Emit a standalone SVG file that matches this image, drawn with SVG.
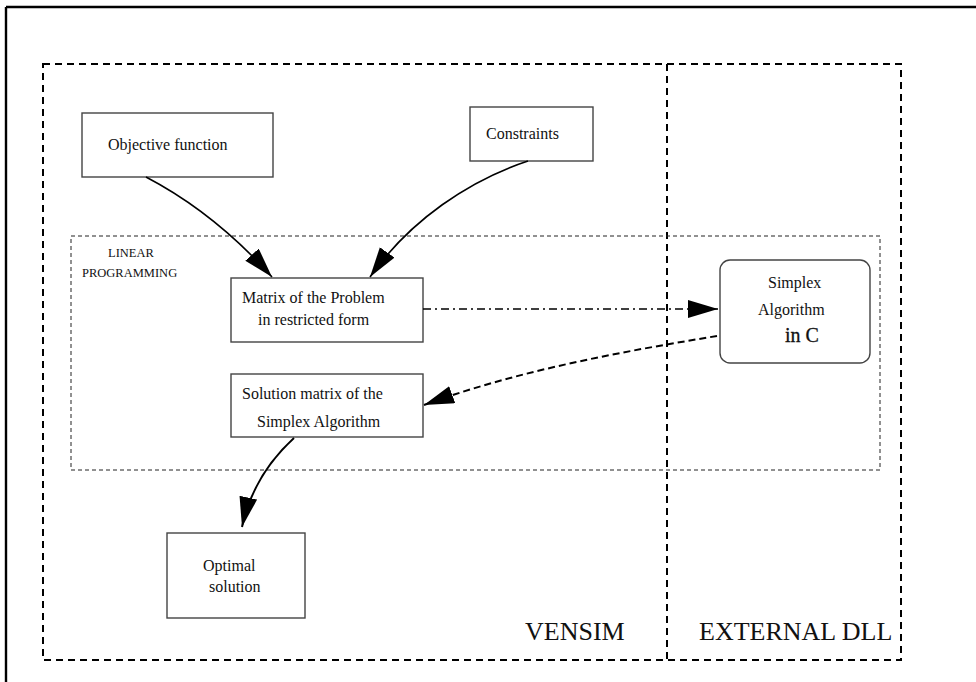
<svg xmlns="http://www.w3.org/2000/svg" width="976" height="682" viewBox="0 0 976 682">
<style>
.node{fill:#fff;stroke:#444;stroke-width:1.4}
.t{font-family:"Liberation Serif","Times New Roman",serif;font-size:16px;fill:#111}
.small{font-family:"Liberation Serif","Times New Roman",serif;font-size:12.5px;fill:#111}
.big{font-family:"Liberation Serif","Times New Roman",serif;font-size:26px;fill:#111}
.conn{fill:none;stroke:#000}
</style>
<defs>
<marker id="ah" markerUnits="userSpaceOnUse" markerWidth="32" markerHeight="20" refX="30" refY="9" orient="auto">
<path d="M0,0 L30,9 L0,18 Z" fill="#000" stroke="none"/>
</marker>
</defs>
<rect width="976" height="682" fill="#fff"/>
<g id="frame" fill="none" stroke="#000">
<path d="M6,7 H976 M6,7 V682" stroke-width="2.4"/>
<rect x="43" y="64" width="858" height="596" stroke-width="2" stroke-dasharray="7 5"/>
<path d="M667,64 V660" stroke-width="2" stroke-dasharray="7 5"/>
<rect x="71" y="236" width="809" height="234" stroke-width="1" stroke="#222" stroke-dasharray="4 3"/>
</g>
<g id="labels">
<text class="small" x="108" y="257">LINEAR</text>
<text class="small" x="82" y="277">PROGRAMMING</text>
<text class="big" x="525" y="640">VENSIM</text>
<text class="big" x="699" y="640">EXTERNAL DLL</text>
</g>
<g id="node-objective">
<rect class="node" x="82" y="113" width="191" height="64"/>
<text class="t" x="108" y="150">Objective function</text>
</g>
<g id="node-constraints">
<rect class="node" x="470" y="107" width="123" height="54"/>
<text class="t" x="486" y="139">Constraints</text>
</g>
<g id="node-matrix">
<rect class="node" x="231" y="278" width="192" height="64"/>
<text class="t" x="242" y="303">Matrix of the Problem</text>
<text class="t" x="258" y="325">in restricted form</text>
</g>
<g id="node-simplex">
<rect class="node" x="720" y="260" width="150" height="103" rx="10" ry="10" stroke="#222"/>
<text class="t" x="768" y="288">Simplex</text>
<text class="t" x="758" y="315">Algorithm</text>
<text class="t" x="785" y="342" style="font-size:20px;stroke:#111;stroke-width:0.3">in C</text>
</g>
<g id="node-solution">
<rect class="node" x="231" y="374" width="192" height="63"/>
<text class="t" x="242" y="399">Solution matrix of the</text>
<text class="t" x="257" y="427">Simplex Algorithm</text>
</g>
<g id="node-optimal">
<rect class="node" x="167" y="533" width="138" height="85"/>
<text class="t" x="203" y="571">Optimal</text>
<text class="t" x="209" y="592">solution</text>
</g>
<g id="connectors">
<path class="conn" stroke-width="1.6" d="M146,177 C190,200 230,230 272,277" marker-end="url(#ah)"/>
<path class="conn" stroke-width="1.6" d="M528,161 C470,180 410,220 370,277" marker-end="url(#ah)"/>
<path class="conn" stroke-width="1.6" stroke-dasharray="8 4 2 4" d="M423,309 H718" marker-end="url(#ah)"/>
<path class="conn" stroke-width="2" stroke-dasharray="7 4" d="M717,336 C620,352 520,370 424,405" marker-end="url(#ah)"/>
<path class="conn" stroke-width="2" d="M294,438 C270,460 250,490 242,527" marker-end="url(#ah)"/>
</g>
</svg>
